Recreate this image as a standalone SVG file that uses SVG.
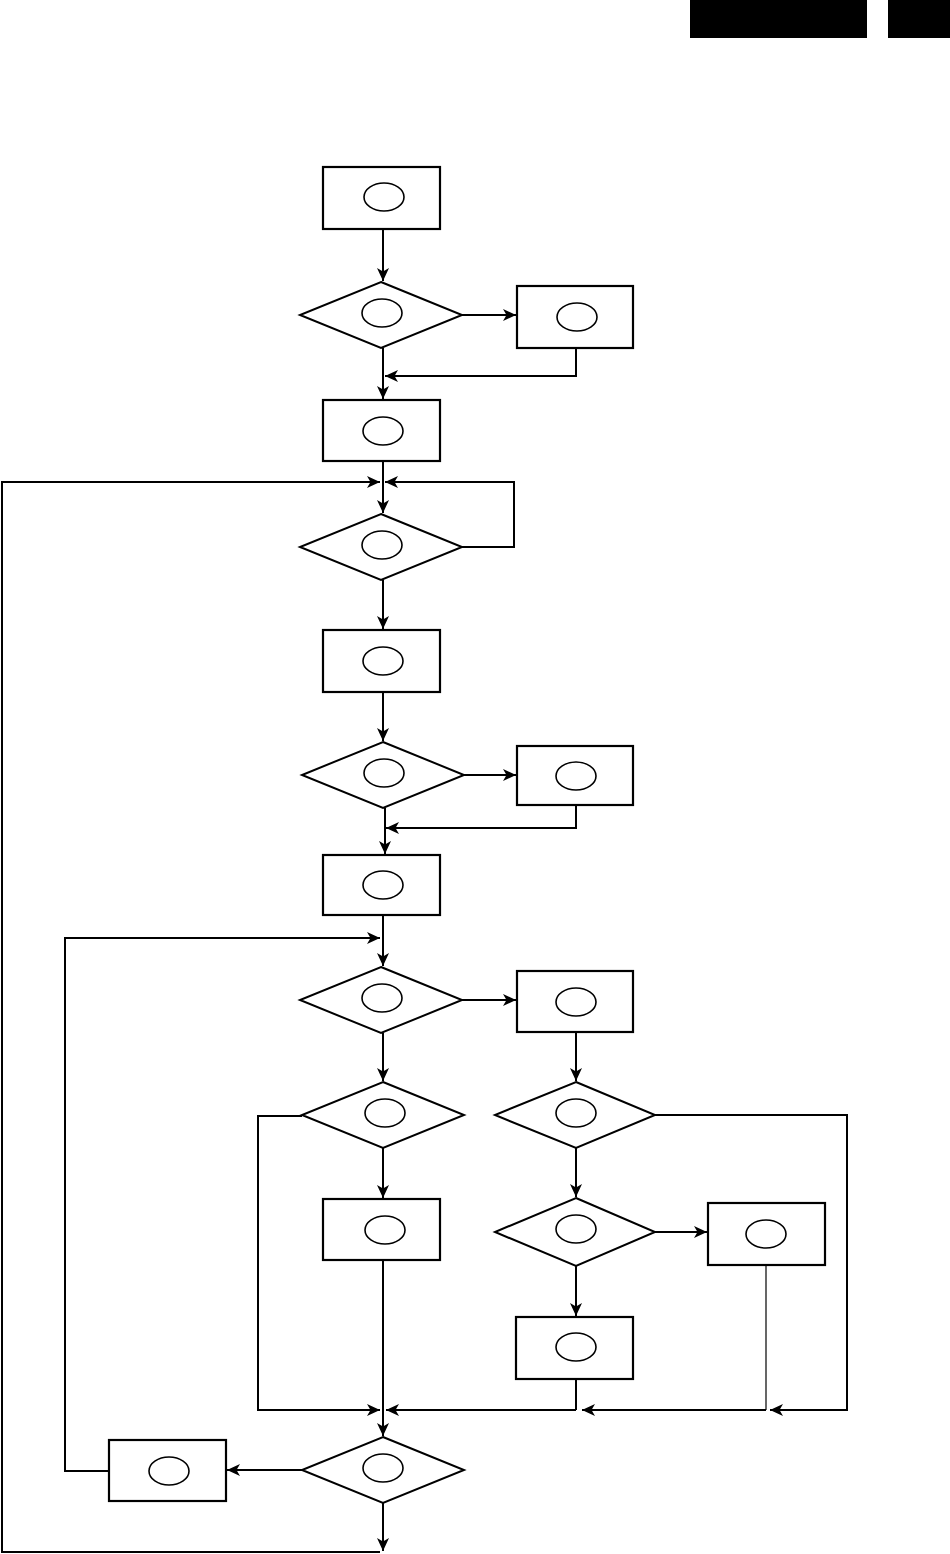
<svg xmlns="http://www.w3.org/2000/svg" width="950" height="1554" viewBox="0 0 950 1554">
<defs>
<marker id="ah" viewBox="0 0 13 12" refX="13" refY="6" markerWidth="13" markerHeight="12" markerUnits="userSpaceOnUse" orient="auto">
<path d="M0,0 L13,6 L0,12 L3.5,6 Z" fill="#000"/>
</marker>
</defs>
<style>
.box{fill:#fff;stroke:#000;stroke-width:2.2}
.dia{fill:#fff;stroke:#000;stroke-width:2}
.ell{fill:none;stroke:#000;stroke-width:1.6}
.c{fill:none;stroke:#000;stroke-width:2}
.t{fill:none;stroke:#000;stroke-width:1.2}
.a{marker-end:url(#ah)}
</style>
<rect width="950" height="1554" fill="#fff"/>
<g id="header">
<rect x="690" y="0" width="177" height="38" fill="#000"/>
<rect x="888" y="0" width="62" height="38" fill="#000"/>
</g>
<g id="connectors">
<path class="c a" d="M383,229 V281"/>
<path class="c a" d="M462,315 H516"/>
<path class="c a" d="M576,348 V376 H385"/>
<path class="c a" d="M383,348 V399"/>
<path class="c a" d="M383,461 V513"/>
<path class="c a" d="M462,547 H514 V482 H385"/>
<path class="c a" d="M383,1503 V1551"/>
<path class="c a" d="M380,1552 H2 V482 H380"/>
<path class="c a" d="M383,580 V629"/>
<path class="c a" d="M383,692 V741"/>
<path class="c a" d="M464,775 H516"/>
<path class="c a" d="M576,805 V828 H386"/>
<path class="c a" d="M385,808 V854"/>
<path class="c a" d="M383,915 V966"/>
<path class="c a" d="M109,1471 H65 V938 H380"/>
<path class="c a" d="M462,1000 H516"/>
<path class="c a" d="M383,1033 V1081"/>
<path class="c a" d="M576,1032 V1081"/>
<path class="c a" d="M302,1116 H258 V1410 H380"/>
<path class="c a" d="M383,1148 V1198"/>
<path class="c a" d="M383,1260 V1436"/>
<path class="c a" d="M655,1115 H847 V1410 H770"/>
<path class="c a" d="M766,1410 H582"/>
<path class="c a" d="M576,1410 H386"/>
<path class="t" d="M766,1265 V1410"/>
<path class="c" d="M576,1379 V1410"/>
<path class="c a" d="M576,1148 V1197"/>
<path class="c a" d="M655,1232 H707"/>
<path class="c a" d="M576,1266 V1316"/>
<path class="c a" d="M302,1470 H227"/>
</g>
<g id="B1"><rect class="box" x="323" y="167" width="117" height="62"/><ellipse class="ell" cx="384" cy="197" rx="20" ry="14"/></g>
<g id="B2"><rect class="box" x="517" y="286" width="116" height="62"/><ellipse class="ell" cx="577" cy="317" rx="20" ry="14"/></g>
<g id="B3"><rect class="box" x="323" y="400" width="117" height="61"/><ellipse class="ell" cx="383" cy="431" rx="20" ry="14"/></g>
<g id="B4"><rect class="box" x="323" y="630" width="117" height="62"/><ellipse class="ell" cx="383" cy="661" rx="20" ry="14"/></g>
<g id="B5"><rect class="box" x="517" y="746" width="116" height="59"/><ellipse class="ell" cx="576" cy="776" rx="20" ry="14"/></g>
<g id="B6"><rect class="box" x="323" y="855" width="117" height="60"/><ellipse class="ell" cx="383" cy="885" rx="20" ry="14"/></g>
<g id="B7"><rect class="box" x="109" y="1440" width="117" height="61"/><ellipse class="ell" cx="169" cy="1471" rx="20" ry="14"/></g>
<g id="B8"><rect class="box" x="517" y="971" width="116" height="61"/><ellipse class="ell" cx="576" cy="1002" rx="20" ry="14"/></g>
<g id="B9"><rect class="box" x="323" y="1199" width="117" height="61"/><ellipse class="ell" cx="385" cy="1230" rx="20" ry="14"/></g>
<g id="B10"><rect class="box" x="708" y="1203" width="117" height="62"/><ellipse class="ell" cx="766" cy="1234" rx="20" ry="14"/></g>
<g id="B11"><rect class="box" x="516" y="1317" width="117" height="62"/><ellipse class="ell" cx="576" cy="1347" rx="20" ry="14"/></g>
<g id="D1"><polygon class="dia" points="381,282 462,315 381,348 300,315"/><ellipse class="ell" cx="382" cy="313" rx="20" ry="14"/></g>
<g id="D2"><polygon class="dia" points="381,514 462,547 381,580 300,547"/><ellipse class="ell" cx="382" cy="545" rx="20" ry="14"/></g>
<g id="D3"><polygon class="dia" points="383,742 464,775 383,808 302,775"/><ellipse class="ell" cx="384" cy="773" rx="20" ry="14"/></g>
<g id="D4"><polygon class="dia" points="381,967 462,1000 381,1033 300,1000"/><ellipse class="ell" cx="382" cy="998" rx="20" ry="14"/></g>
<g id="D5"><polygon class="dia" points="383,1082 464,1115 383,1148 302,1115"/><ellipse class="ell" cx="385" cy="1113" rx="20" ry="14"/></g>
<g id="D6"><polygon class="dia" points="576,1082 655,1115 576,1148 495,1115"/><ellipse class="ell" cx="576" cy="1113" rx="20" ry="14"/></g>
<g id="D7"><polygon class="dia" points="576,1198 655,1232 576,1266 495,1232"/><ellipse class="ell" cx="576" cy="1229" rx="20" ry="14"/></g>
<g id="D8"><polygon class="dia" points="383,1437 464,1470 383,1503 302,1470"/><ellipse class="ell" cx="383" cy="1468" rx="20" ry="14"/></g>
</svg>
